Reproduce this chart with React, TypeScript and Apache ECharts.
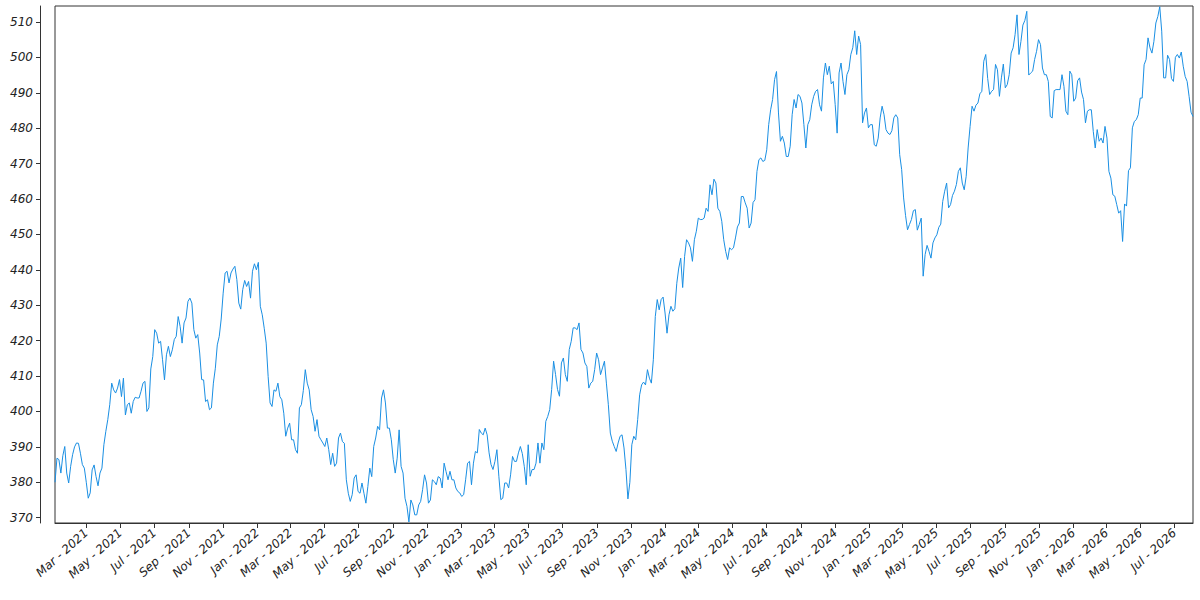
import React, { useEffect, useRef } from "react";
import * as echarts from "echarts";

// Values: one at the start of each week (Mondays from startDate)
// and one in the middle of each week (3.5 days later).
const startDate = "2021-01-04";
const weekDays = 7;
const midOffsetDays = 3.5;

const weekStartValues: number[] = [
  380, 386.4, 387.5, 382.6, 384.5, 390, 391, 385, 380, 377,
  384.9, 379, 384, 394.4, 401.9, 406.1, 406.6, 404.2, 399, 402.4,
  402.8, 403.8, 405.7, 408.5, 401, 415.5, 422.1, 419.8, 408.9, 418.4,
  417.4, 421.2, 424, 425, 431.1, 430.6, 420.7, 416.5, 408.9, 403.3,
  401, 412.2, 421.2, 433.4, 439.6, 439.1, 441, 430.6, 434.4, 435.3,
  432, 441.7, 442.1, 427.3, 419.3, 402.4, 406.1, 408, 403.3, 393,
  396.7, 392, 388.2, 401.9, 411.8, 406.1, 398.6, 397.7, 392, 390.1,
  389.2, 388.2, 385.4, 393.9, 391, 376.9, 376.5, 382.1, 376.9, 376.9,
  378.8, 381.6, 392.5, 394.8, 406.1, 395.3, 392, 382.6, 394.8, 382.6,
  373.2, 375, 370.8, 373.6, 377.9, 379.8, 375, 380.2, 381.6, 378.4,
  383, 383.1, 380.7, 377.4, 376, 380.7, 385.9, 385.4, 388.3, 393.9,
  395.3, 388.3, 383.6, 389.2, 375.1, 379.8, 378.4, 387.3, 385.9, 390.1,
  384.5, 390.6, 383.6, 385.4, 385.4, 389.2, 398.6, 406.2, 410.4, 404.3,
  415.1, 408.5, 419.8, 423.6, 425, 416.5, 412.7, 408, 411.8, 414.6,
  412.3, 408, 393.9, 390.1, 391.1, 393.4, 383.6, 380, 393, 397.7,
  407.5, 407.5, 409.4, 414.6, 431.6, 431.6, 427.8, 427.3, 428.3, 436.2,
  443.3, 443.8, 447.6, 442.4, 450.9, 454.2, 454.6, 456.5, 461.2, 464.5,
  456.5, 448.5, 442.9, 445.7, 449, 453.2, 460.7, 457.4, 453.2, 459.8,
  471.1, 470.6, 473.9, 485.2, 493.7, 484.3, 477.7, 472, 474.9, 488.1,
  489.5, 487.1, 474.4, 482.4, 489, 490.9, 484.8, 498.4, 497.5, 493.2,
  478.6, 498.4, 489.5, 496.5, 502.7, 500.8, 503.6, 484.3, 480.1, 481,
  474.9, 482.9, 483.8, 478.6, 479.3, 483.8, 472.5, 460.3, 451.3, 454.2,
  457, 452.8, 438.2, 446.9, 443.3, 449, 452, 459.3, 464.5, 458.4,
  462.2, 467.8, 464.5, 466.4, 480.5, 484.8, 487.1, 490.4, 500.8, 489.5,
  490.9, 496.5, 494.2, 491.4, 495.1, 502.7, 512, 504.5, 510.4, 495,
  496.1, 501.7, 503.6, 495.1, 493.2, 482.9, 490.9, 490.9, 491.8, 483.8,
  495.1, 488.5, 494.2, 488.1, 484.8, 485.2, 474.4, 476.3, 475.8, 477.2,
  465.9, 460.8, 456, 448, 458, 468.8, 481.9, 483.8, 488.5, 499.4,
  502.7, 504.5, 511.5, 507.4, 494.2, 499.4, 493.2, 500.8, 501.5, 494.6,
  489, 483.3,
];

const midWeekValues: number[] = [
  386.8, 382.6, 390.1, 379.8, 387.8, 391.1, 388.2, 384, 375.5, 383.5,
  381.6, 382.6, 390.6, 397.7, 408, 405.2, 409, 409.4, 401.9, 399.5,
  404, 403.8, 408, 400, 412, 423.1, 419.3, 414.6, 416, 415.5,
  420.3, 426.8, 419.3, 426.4, 432, 423.1, 421.7, 409, 402.8, 400.5,
  408, 418.8, 426.1, 439.1, 436.3, 440.2, 437.2, 428.9, 437, 436.7,
  439.6, 440, 429.7, 423.5, 409.9, 401.4, 405.7, 404.2, 399.5, 395.3,
  392, 389.2, 401, 405.9, 408, 400.5, 394.4, 393, 391.1, 392.5,
  385, 384.5, 392.5, 391.5, 380.7, 374.6, 381.2, 377.4, 379.8, 374.1,
  384, 390.1, 395.8, 403.8, 402.4, 395.3, 386.4, 386.8, 384.5, 375.5,
  368.8, 373.6, 370.8, 374.6, 382.1, 374.1, 380.7, 379.3, 381.2, 385.4,
  380.7, 380.7, 378.4, 377, 376.5, 385.4, 379.3, 388.7, 394.9, 393.4,
  393.4, 385, 385.9, 381.7, 375.5, 379.8, 382.1, 385.9, 388.3, 388.1,
  379.3, 381.7, 383.6, 391.1, 391.1, 397.2, 400.5, 414.2, 406.2, 413.7,
  410.4, 417.5, 423.6, 423.1, 417.5, 413.7, 406.6, 408.5, 416.5, 410.4,
  414.2, 401.9, 391.6, 388.7, 393, 389.7, 375.3, 390.6, 392, 404.7,
  408.3, 411.8, 408, 426.8, 428.7, 432.3, 422.1, 429.7, 429, 440.5,
  435, 448.5, 446.2, 448.5, 454.6, 454.2, 457.4, 464, 465.6, 457.4,
  453.7, 445.2, 446.2, 446.2, 452.1, 460.7, 458.9, 451.8, 459, 467.8,
  471.6, 470.9, 481, 488.1, 496, 476.3, 475.8, 472, 483.8, 485.7,
  489, 481, 481, 486.6, 490.4, 486.6, 494.2, 495.1, 492.5, 486.7,
  495.6, 493.2, 495.1, 500.8, 507.5, 506, 481.5, 485.7, 481, 475.3,
  477.2, 486.2, 479.6, 478.2, 482.9, 482.9, 468.3, 455.3, 452.8, 456.7,
  451.2, 454.6, 444.3, 445.2, 447.6, 449.9, 452.9, 462.2, 457.5, 461,
  464.1, 468.8, 462.6, 474.4, 486.2, 486.5, 489.7, 498.9, 494, 490.4,
  498, 489, 498.1, 492.3, 501.2, 506.4, 500.8, 509.1, 513, 495.6,
  499.4, 505, 497, 495.1, 483.3, 490.6, 490.9, 495.1, 484.8, 496.1,
  487.6, 493.4, 490.2, 481.5, 485.2, 479.1, 479.6, 477.2, 480.5, 467.8,
  461.2, 458.4, 456.7, 458.6, 468, 480.1, 482.4, 488.5, 497.9, 505.5,
  501.2, 509.7, 514.3, 494.2, 500.6, 494, 500, 499.8, 497.5, 493.2,
  484.5,
];

const yTicks = [370, 380, 390, 400, 410, 420, 430, 440, 450, 460, 470, 480, 490, 500, 510];
const yMin = 368.5;
const yMax = 514.5;

const xTickDates = [
  "2021-03-01", "2021-05-01", "2021-07-01", "2021-09-01", "2021-11-01",
  "2022-01-01", "2022-03-01", "2022-05-01", "2022-07-01", "2022-09-01", "2022-11-01",
  "2023-01-01", "2023-03-01", "2023-05-01", "2023-07-01", "2023-09-01", "2023-11-01",
  "2024-01-01", "2024-03-01", "2024-05-01", "2024-07-01", "2024-09-01", "2024-11-01",
  "2025-01-01", "2025-03-01", "2025-05-01", "2025-07-01", "2025-09-01", "2025-11-01",
  "2026-01-01", "2026-03-01", "2026-05-01", "2026-07-01",
];
const monthNames = ["Jan", "Feb", "Mar", "Apr", "May", "Jun", "Jul", "Aug", "Sep", "Oct", "Nov", "Dec"];

const DAY = 86400000;

export default function App() {
  const ref = useRef<HTMLDivElement>(null);

  useEffect(() => {
    if (!ref.current) return;
    const chart = echarts.init(ref.current, null, { renderer: "svg" });
    const start = Date.parse(startDate + "T00:00:00Z");
    const data: number[][] = [];
    weekStartValues.forEach((v, i) => {
      const t = start + i * weekDays * DAY;
      data.push([t, v]);
      if (i < midWeekValues.length) {
        data.push([t + midOffsetDays * DAY, midWeekValues[i]]);
      }
    });
    const xTicks = xTickDates.map((d) => Date.parse(d + "T00:00:00Z"));
    const labelFont = {
      fontFamily: "DejaVu Sans",
      fontStyle: "italic" as const,
      fontSize: 12,
      color: "#222",
    };

    chart.setOption({
      animation: false,
      backgroundColor: "#fff",
      grid: {
        left: 55,
        right: 7,
        top: 6,
        bottom: 77,
        show: true,
        borderColor: "#333",
        borderWidth: 1,
        backgroundColor: "transparent",
      },
      xAxis: {
        type: "value",
        min: data[0][0],
        max: data[data.length - 1][0],
        axisLine: { show: true, lineStyle: { color: "#333", width: 1 } },
        axisTick: { show: true, length: 5, customValues: xTicks, lineStyle: { color: "#333" } },
        axisLabel: {
          ...labelFont,
          customValues: xTicks,
          rotate: 42,
          margin: 8,
          hideOverlap: false,
          formatter: (val: number) => {
            const d = new Date(val);
            return monthNames[d.getUTCMonth()] + " - " + d.getUTCFullYear();
          },
        },
        splitLine: { show: false },
      },
      yAxis: {
        type: "value",
        min: yMin,
        max: yMax,
        offset: 15,
        axisLine: { show: true, lineStyle: { color: "#333", width: 1 } },
        axisTick: { show: true, length: 4, customValues: yTicks, lineStyle: { color: "#333" } },
        axisLabel: {
          ...labelFont,
          customValues: yTicks,
          margin: 7,
        },
        splitLine: { show: false },
      },
      series: [
        {
          type: "line",
          data,
          showSymbol: false,
          symbol: "none",
          lineStyle: { width: 1, color: "#1a8fe3" },
          itemStyle: { color: "#1a8fe3" },
        },
      ],
    });

    return () => chart.dispose();
  }, []);

  return (
    <div
      ref={ref}
      style={{ position: "absolute", left: 0, top: 0, width: 1200, height: 600, background: "#fff" }}
    />
  );
}
